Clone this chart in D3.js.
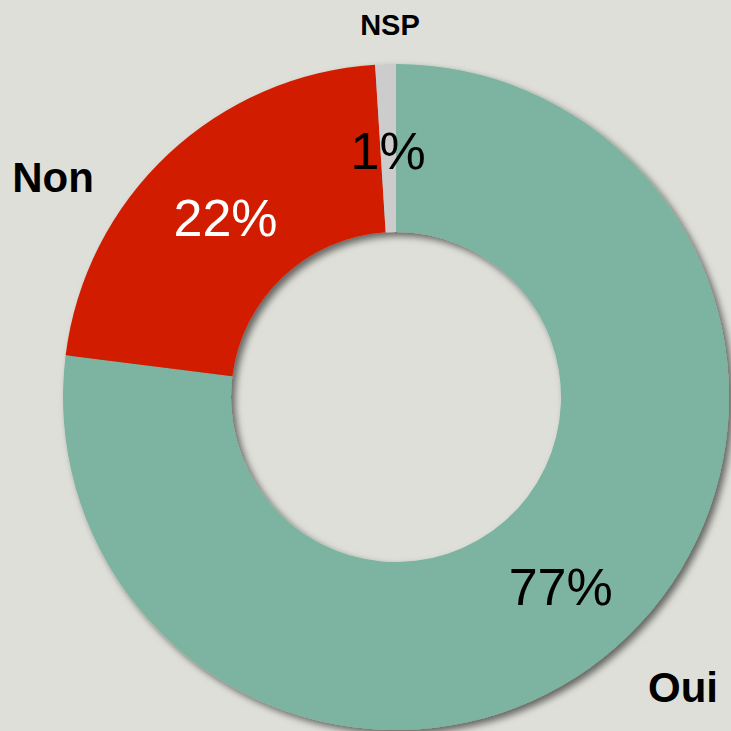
<!DOCTYPE html>
<html>
<head>
<meta charset="utf-8">
<script src="https://cdn.jsdelivr.net/npm/d3@7"></script>
<style>
  html, body { margin: 0; padding: 0; background: #dfdfd9; }
  svg { display: block; }
</style>
</head>
<body>
<div id="container"></div>
<script>
let w = 731;
let h = 731;

// data
let categories = ["Oui", "Non", "NSP"];
let values = [77, 22, 1];
let pctLabels = ["77%", "22%", "1%"];

let colors = ["#7bb4a1", "#d21f00", "#cccccc"];
let pctColors = ["#000000", "#ffffff", "#000000"];

// category label anchors (centre of text)
let catPos = [[683, 687], [53, 177], [390, 25]];
let catSize = [42, 42, 29];

let cx = 396, cy = 397;
let outerR = 333, innerR = 165;

let svg = d3.select("#container").append("svg")
    .attr("width", w)
    .attr("height", h)
    .style("background-color", "#dfdfd9");

let defs = svg.append("defs");
let filt = defs.append("filter")
    .attr("id", "shadow")
    .attr("x", "-10%").attr("y", "-10%")
    .attr("width", "120%").attr("height", "120%");
filt.append("feDropShadow")
    .attr("dx", 4)
    .attr("dy", 4)
    .attr("stdDeviation", 3.5)
    .attr("flood-color", "#000")
    .attr("flood-opacity", 0.55);

let pie = d3.pie().sort(null).value(d => d);
let arcs = pie(values);

let arc = d3.arc().innerRadius(innerR).outerRadius(outerR);

let g = svg.append("g").attr("transform", `translate(${cx},${cy})`);

g.append("g")
    .attr("filter", "url(#shadow)")
    .selectAll("path")
    .data(arcs).enter()
    .append("path")
    .attr("d", arc)
    .attr("fill", (d, i) => colors[i]);

g.selectAll(".pct")
    .data(arcs).enter()
    .append("text")
    .attr("class", "pct")
    .attr("transform", d => `translate(${arc.centroid(d)})`)
    .attr("text-anchor", "middle")
    .attr("dominant-baseline", "central")
    .attr("dy", 3)
    .style("font-family", "Liberation Sans, Arial, sans-serif")
    .style("font-size", "52px")
    .attr("fill", (d, i) => pctColors[i])
    .text((d, i) => pctLabels[i]);

svg.selectAll(".cat")
    .data(categories).enter()
    .append("text")
    .attr("class", "cat")
    .attr("x", (d, i) => catPos[i][0])
    .attr("y", (d, i) => catPos[i][1])
    .attr("text-anchor", "middle")
    .attr("dominant-baseline", "central")
    .style("font-family", "Liberation Sans, Arial, sans-serif")
    .style("font-weight", "bold")
    .style("font-size", (d, i) => catSize[i] + "px")
    .attr("fill", "#000")
    .text(d => d);
</script>
</body>
</html>
